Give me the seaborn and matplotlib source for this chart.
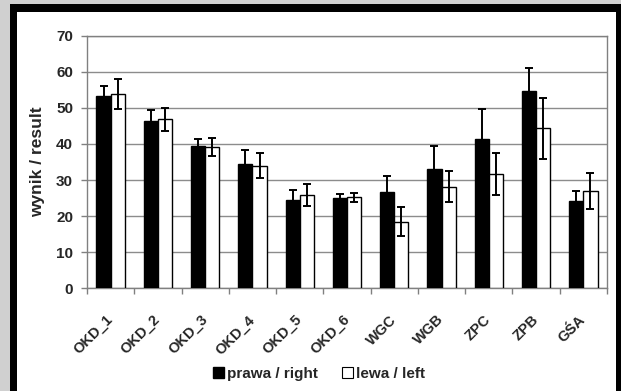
import matplotlib
matplotlib.use("Agg")
import matplotlib.pyplot as plt
import seaborn as sns
import pandas as pd
import numpy as np
from matplotlib.patches import Rectangle, Patch

categories = ["OKD_1", "OKD_2", "OKD_3", "OKD_4", "OKD_5", "OKD_6",
              "WGC", "WGB", "ZPC", "ZPB", "GŚA"]
right_vals = [53.3, 46.4, 39.5, 34.5, 24.5, 24.9, 26.8, 33.1, 41.5, 54.6, 24.2]
right_err = [2.7, 3.0, 1.8, 3.9, 2.7, 1.3, 4.3, 6.3, 8.3, 6.4, 2.7]
left_vals = [53.8, 46.8, 39.2, 34.0, 25.9, 25.2, 18.5, 28.2, 31.7, 44.3, 27.0]
left_err = [4.1, 3.3, 2.5, 3.5, 3.1, 1.2, 4.1, 4.2, 5.8, 8.4, 4.9]
series = ["prawa / right", "lewa / left"]
y_ticks = [0, 10, 20, 30, 40, 50, 60, 70]

df = pd.DataFrame({
    "cat": categories * 2,
    "val": right_vals + left_vals,
    "err": right_err + left_err,
    "side": [series[0]] * len(categories) + [series[1]] * len(categories),
})

sns.set_theme(style="white")
plt.rcParams["font.family"] = ["Liberation Sans", "DejaVu Sans"]
plt.rcParams["font.weight"] = "bold"

W, H = 621, 391
fig = plt.figure(figsize=(W / 100, H / 100), dpi=100)
fig.patch.set_facecolor("#d0d0d0")
fig.patches.append(Rectangle((10 / W, 0), 1 - 10 / W, 1 - 4 / H, transform=fig.transFigure,
                             facecolor="black", edgecolor="none", zorder=-2))
fig.patches.append(Rectangle((17 / W, 0), (616 - 17) / W, 1 - 12 / H, transform=fig.transFigure,
                             facecolor="white", edgecolor="none", zorder=-1))

ax = fig.add_axes([87 / W, 1 - 288.3 / H, (607 - 87) / W, (288.3 - 35.7) / H])
ax.set_facecolor("white")

sns.barplot(data=df, x="cat", y="val", hue="side", order=categories, hue_order=series,
            palette=["black", "white"], edgecolor="black", linewidth=1.0,
            width=0.6, errorbar=None, ax=ax, legend=False, zorder=3)

errs = [right_err, left_err]
for cont, e in zip(ax.containers, errs):
    xs = [p.get_x() + p.get_width() / 2 for p in cont.patches]
    ys = [p.get_height() for p in cont.patches]
    ax.errorbar(xs, ys, yerr=e, fmt="none", ecolor="black", elinewidth=1.4,
                capsize=3.2, capthick=1.4, zorder=4)

ax.set_ylim(0, 70)
ax.set_xlim(-0.5, len(categories) - 0.5)
ax.set_yticks(y_ticks)
ax.set_yticklabels([str(t) for t in y_ticks], fontsize=11, fontweight="bold")
ax.yaxis.grid(True, color="#8c8c8c", linewidth=1.0, zorder=0)
ax.set_axisbelow(True)

ax.set_xticks(range(len(categories)))
ax.set_xticklabels(categories, rotation=45, ha="right", va="center",
                   rotation_mode="anchor", fontsize=10.5, fontweight="bold")
ax.tick_params(axis="x", which="major", length=0, pad=21)
ax.set_xticks(np.arange(-0.5, len(categories), 1.0), minor=True)
ax.tick_params(axis="x", which="minor", length=4, width=1, color="#808080", direction="out", bottom=True)
ax.tick_params(axis="y", length=4, width=1, color="#808080", direction="out", left=True, pad=6)

for s in ["left", "bottom", "right", "top"]:
    ax.spines[s].set_visible(True)
    ax.spines[s].set_color("#808080")
    ax.spines[s].set_linewidth(1.0)

ax.set_xlabel("")
ax.set_ylabel("wynik / result", fontsize=12.5, fontweight="bold", labelpad=8)

handles = [Patch(facecolor="black", edgecolor="black"),
           Patch(facecolor="white", edgecolor="black", linewidth=0.8)]
fig.legend(handles, series, loc="center", bbox_to_anchor=(319 / W, 1 - 374 / H), ncol=2,
           frameon=False, prop={"size": 11, "weight": "bold"}, handlelength=0.7,
           handleheight=0.7, handletextpad=0.2, columnspacing=1.6)

fig.savefig("out.png", dpi=100, facecolor=fig.get_facecolor())
